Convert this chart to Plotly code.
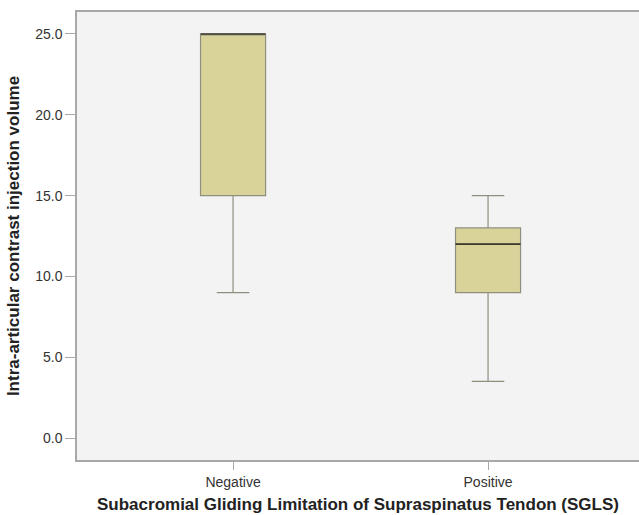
import plotly.graph_objects as go

categories = ["Negative", "Positive"]
q1 = [15.0, 9.0]
median = [25.0, 12.0]
q3 = [25.0, 13.0]
lower = [9.0, 3.5]
upper = [25.0, 15.0]
yticks = [0, 5, 10, 15, 20, 25]

xpos = list(range(len(categories)))
box_w = 0.255

fig = go.Figure()
fig.add_trace(go.Box(
    x=xpos, q1=q1, median=median, q3=q3, lowerfence=lower, upperfence=upper,
    width=box_w, whiskerwidth=0.5,
    fillcolor="#d9d39a", line=dict(color="#8f8f80", width=1.2),
    boxpoints=False, hoverinfo="skip", showlegend=False,
))
# darker median lines
for i, m in enumerate(median):
    fig.add_trace(go.Scatter(
        x=[xpos[i] - box_w / 2, xpos[i] + box_w / 2], y=[m, m],
        mode="lines", line=dict(color="#3d3a2c", width=1.6),
        showlegend=False, hoverinfo="skip",
    ))

font = "Liberation Sans, Arial, sans-serif"
fig.update_layout(
    width=639, height=515,
    margin=dict(l=77, r=0, t=12, b=55),
    paper_bgcolor="white", plot_bgcolor="#f3f3f3",
    font=dict(family=font, color="#333333"),
    xaxis=dict(
        range=[-0.612, 1.592], tickvals=xpos, ticktext=categories,
        showgrid=False, zeroline=False, showline=True, linecolor="#a8a8a8",
        linewidth=1.5, mirror=True, ticks="outside", ticklen=8,
        tickcolor="#a8a8a8", tickfont=dict(size=14, color="#333333"),
        automargin=False,
        title=dict(text="<b>Subacromial Gliding Limitation of Supraspinatus Tendon (SGLS)</b>",
                   font=dict(size=17, color="#222222"), standoff=10),
    ),
    yaxis=dict(
        range=[-1.36, 26.36], tickvals=yticks,
        ticktext=[f"{v:.1f}" for v in yticks],
        showgrid=False, zeroline=False, showline=True, linecolor="#a8a8a8",
        linewidth=1.5, ticks="outside", ticklen=10, tickcolor="#a8a8a8",
        tickfont=dict(size=14, color="#333333"), automargin=False,
        title=dict(text="<b>Intra-articular contrast injection volume</b>",
                   font=dict(size=17, color="#222222"), standoff=11),
    ),
)
fig.write_html("out.html", config={"displayModeBar": False},
               post_script="document.body.style.margin='0';document.body.style.overflow='hidden';")
